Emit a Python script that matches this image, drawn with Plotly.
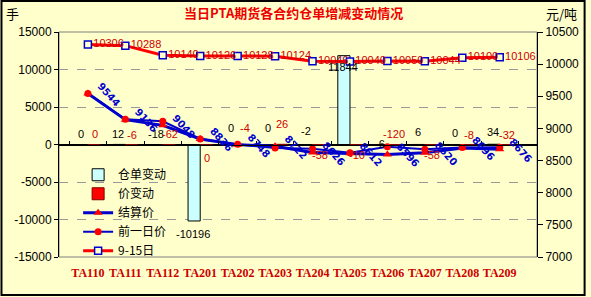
import plotly.graph_objects as go

# ---------------- data ----------------
categories = ["TA110", "TA111", "TA112", "TA201", "TA202", "TA203",
              "TA204", "TA205", "TA206", "TA207", "TA208", "TA209"]
receipt_change = [0, 12, -18, -10196, 0, 0, -2, 11844, -6, 6, 0, 34]
price_change = [0, -6, -62, 0, -4, 26, -58, -10, -120, -58, -8, -32]
settle_price = [9544, 9136, 9048, 8836, 8748, 8722, 8626, 8612, 8596, 8620, 8696, 8676]
prev_price = [9544, 9142, 9110, 8836, 8752, 8696, 8684, 8622, 8716, 8678, 8704, 8708]
sep15_price = [10306, 10288, 10140, 10126, 10128, 10124, 10046, 10040, 10050, 10044, 10100, 10106]

left_ticks = [-15000, -10000, -5000, 0, 5000, 10000, 15000]
left_tick_text = ["-15000", "-10000", "-5000", "0", "5000", "10000", "15000"]
right_ticks = [7000, 7500, 8000, 8500, 9000, 9500, 10000, 10500]
right_tick_text = ["7000", "7500", "8000", "8500", "9000", "9500", "10000", "10500"]

# label placement offsets (style, px)
receipt_label_shift = [11, 10, 11, -13, 17, 17, 14, -11, 1, 12, 12, 12]
change_label_shift = [11, 10, 11, -13, 17, 21, -10, -10, 11, -10, 10, 10]

BLUE = "#0000CC"
RED = "#FF0000"
DRED = "#CC0000"
BG = "#FFFFCC"

fig = go.Figure()

fig.add_trace(go.Bar(
    x=categories, y=receipt_change, name="仓单变动",
    marker=dict(color="#CCFFFF", line=dict(color="black", width=1)),
    yaxis="y", hoverinfo="skip"))
fig.add_trace(go.Bar(
    x=categories, y=price_change, name="价变动",
    marker=dict(color=RED, line=dict(color="#800000", width=1)),
    yaxis="y", hoverinfo="skip"))

fig.add_trace(go.Scatter(
    x=categories, y=settle_price, name="结算价", yaxis="y2",
    mode="lines+markers",
    line=dict(color=BLUE, width=3),
    marker=dict(symbol="triangle-up", size=8, color=RED),
    hoverinfo="skip"))
fig.add_trace(go.Scatter(
    x=categories, y=prev_price, name="前一日价", yaxis="y2",
    mode="lines+markers",
    line=dict(color=BLUE, width=2),
    marker=dict(symbol="circle", size=7, color=RED),
    hoverinfo="skip"))
fig.add_trace(go.Scatter(
    x=categories, y=sep15_price, name="9-15日", yaxis="y2",
    mode="lines+markers+text",
    text=[str(v) for v in sep15_price],
    textposition="middle right",
    textfont=dict(family="Liberation Sans", size=11, color=DRED),
    line=dict(color=RED, width=3),
    marker=dict(symbol="square", size=7, color=BG, line=dict(color=BLUE, width=1.5)),
    cliponaxis=False, hoverinfo="skip"))

# invisible trace carrying the zero-line category axis
fig.add_trace(go.Scatter(
    x=categories, y=[0] * len(categories), xaxis="x2", yaxis="y",
    mode="markers", marker=dict(opacity=0), showlegend=False, hoverinfo="skip"))

annotations = []
for c, v, s in zip(categories, receipt_change, receipt_label_shift):
    annotations.append(dict(x=c, y=v, xref="x", yref="y", text=str(v), showarrow=False,
                            xshift=-7, yshift=s,
                            font=dict(family="Liberation Sans", size=11, color="black")))
for c, v, s in zip(categories, price_change, change_label_shift):
    annotations.append(dict(x=c, y=0, xref="x", yref="y", text=str(v), showarrow=False,
                            xshift=7, yshift=s,
                            font=dict(family="Liberation Sans", size=11, color=DRED)))
for c, v in zip(categories, settle_price):
    annotations.append(dict(x=c, y=v, xref="x", yref="y2", text=str(v), showarrow=False,
                            xshift=21, yshift=-1, textangle=48,
                            font=dict(family="DejaVu Sans", size=10, color=BLUE, weight="bold")))

annotations.append(dict(x=-0.097, y=1.08, xref="paper", yref="paper", text="手",
                        xanchor="center", yanchor="middle", showarrow=False,
                        font=dict(family="Noto Sans CJK SC", size=13, color="black")))
annotations.append(dict(x=1.052, y=1.08, xref="paper", yref="paper", text="元/吨",
                        xanchor="center", yanchor="middle", showarrow=False,
                        font=dict(family="Noto Sans CJK SC", size=13, color="black")))

fig.update_layout(
    width=591, height=297,
    margin=dict(l=59, r=50, t=32, b=40),
    paper_bgcolor=BG, plot_bgcolor=BG,
    barmode="group", bargap=0.35, bargroupgap=0,
    title=dict(text="当日PTA期货各合约仓单增减变动情况", x=0.497, xanchor="center",
               y=0.955, yanchor="middle",
               font=dict(family="Noto Sans CJK SC", size=13, color="#EE0000", weight="bold")),
    xaxis=dict(type="category", categoryarray=categories, domain=[0, 1],
               showline=False, ticks="", showgrid=False, zeroline=False,
               ticklabelstandoff=7,
               tickfont=dict(family="Liberation Serif", size=12, color=DRED, weight="bold")),
    xaxis2=dict(type="category", overlaying="x", matches="x", anchor="free", position=0.5,
                showline=True, linecolor="black", linewidth=1,
                ticks="inside", ticklen=4, tickcolor="black", tickson="boundaries",
                showticklabels=False, showgrid=False, zeroline=False),
    yaxis=dict(range=[-15000, 15000], tickvals=left_ticks, ticktext=left_tick_text,
               showgrid=True, gridcolor="#999999", griddash="dash", gridwidth=1,
               zeroline=True, zerolinecolor="black", zerolinewidth=1,
               showline=True, linecolor="black", linewidth=1,
               ticks="outside", ticklen=4, tickcolor="black",
               tickfont=dict(family="Liberation Sans", size=12, color="black")),
    yaxis2=dict(range=[7000, 10500], tickvals=right_ticks, ticktext=right_tick_text,
                overlaying="y", side="right", anchor="x",
                showgrid=False, zeroline=False,
                showline=True, linecolor="black", linewidth=1,
                ticks="outside", ticklen=5, tickcolor="black",
                tickfont=dict(family="Liberation Sans", size=12, color="black")),
    legend=dict(x=0.04, y=0.43, xanchor="left", yanchor="top",
                bgcolor="rgba(0,0,0,0)", borderwidth=0,
                font=dict(family="Noto Sans CJK SC", size=12, color="black"),
                tracegroupgap=0),
    annotations=annotations,
    shapes=[
        dict(type="rect", xref="paper", yref="paper", x0=0, x1=1, y0=0, y1=1,
             line=dict(color="#808080", width=1), layer="below"),
        dict(type="rect", xref="paper", yref="paper",
             x0=-58 / 482, x1=530 / 482, y0=-38 / 225, y1=256 / 225,
             line=dict(color="black", width=2)),
    ],
    showlegend=True,
)

fig.write_html("out.html")
